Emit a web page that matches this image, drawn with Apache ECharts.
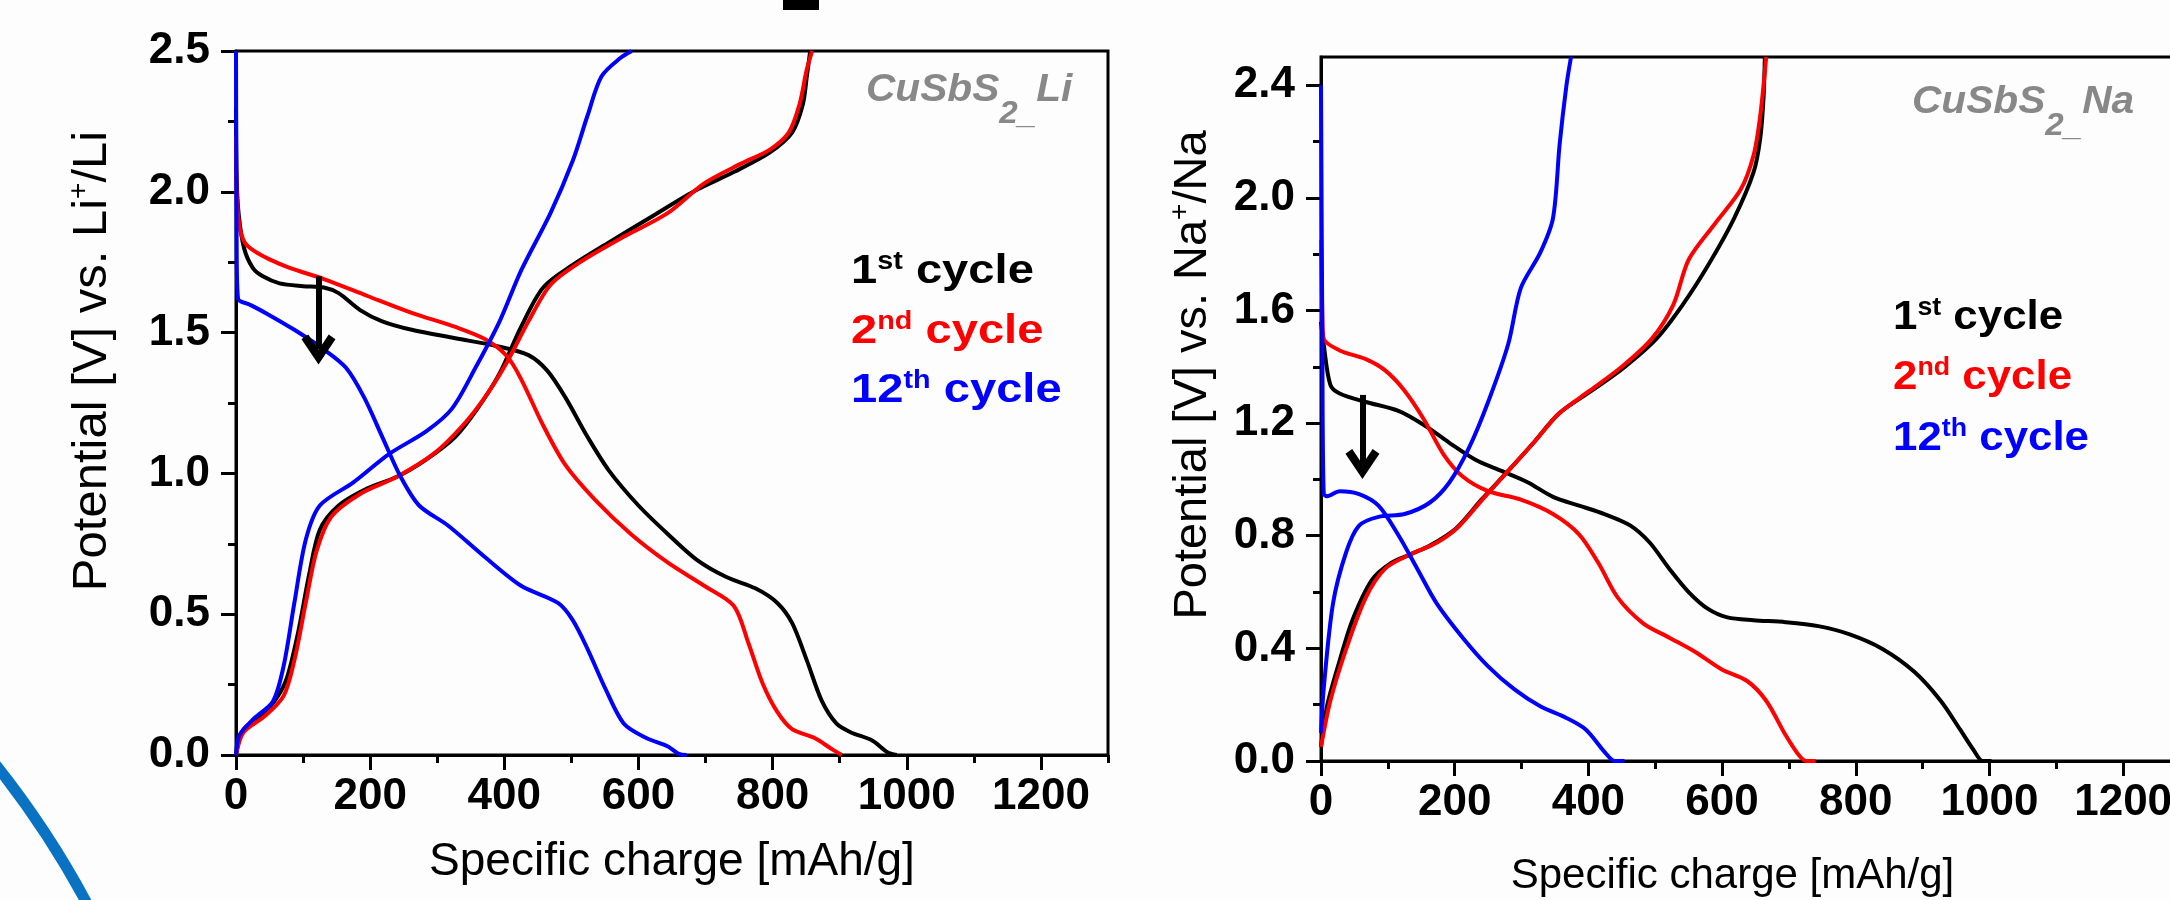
<!DOCTYPE html>
<html>
<head>
<meta charset="utf-8">
<script src="https://cdn.jsdelivr.net/npm/echarts@6/dist/echarts.min.js"></script>
<style>
html,body{margin:0;padding:0;background:#fdfdfd;}
#chart{width:2170px;height:900px;}
</style>
</head>
<body>
<div id="chart"></div>
<script>
// ---------- tick values ----------
const xTicks = [0, 200, 400, 600, 800, 1000, 1200];
const xMinorTicks = [100, 300, 500, 700, 900, 1100, 1300];
const liYTicks = [0, 0.5, 1.0, 1.5, 2.0, 2.5];
const liYMinorTicks = [0.25, 0.75, 1.25, 1.75, 2.25];
const naYTicks = [0, 0.4, 0.8, 1.2, 1.6, 2.0, 2.4];
const naYMinorTicks = [0.2, 0.6, 1.0, 1.4, 1.8, 2.2];

// ---------- CuSbS2 vs Li : [specific charge mAh/g, potential V] ----------
const liCycle1Discharge = [[0,2.3],[1,2.05],[4,1.92],[12,1.80],[25,1.73],[40,1.70],[65,1.675],[100,1.665],[131,1.66],[153,1.64],[185,1.58],[218,1.54],[262,1.51],[327,1.48],[393,1.45],[436,1.42],[464,1.365],[491,1.27],[524,1.13],[556,1.01],[600,0.886],[644,0.784],[687,0.693],[731,0.632],[775,0.591],[807,0.54],[829,0.469],[851,0.336],[873,0.194],[895,0.112],[916,0.081],[949,0.051],[971,0.01],[985,0]];
const liCycle1Charge = [[0,0],[11,0.09],[38,0.14],[60,0.20],[76,0.275],[93,0.44],[109,0.64],[125,0.80],[153,0.886],[196,0.947],[240,0.988],[284,1.05],[327,1.13],[360,1.23],[393,1.355],[425,1.52],[458,1.66],[502,1.74],[556,1.82],[622,1.915],[687,2.007],[742,2.07],[796,2.14],[829,2.21],[845,2.31],[851,2.41],[856,2.5]];
const liCycle2Discharge = [[0,2.2],[1,2.0],[5,1.88],[13,1.82],[27,1.79],[50,1.76],[80,1.73],[131,1.69],[196,1.63],[262,1.57],[327,1.52],[371,1.477],[404,1.416],[425,1.335],[458,1.17],[491,1.03],[535,0.907],[589,0.784],[644,0.683],[698,0.601],[742,0.53],[764,0.397],[785,0.255],[807,0.153],[829,0.092],[862,0.061],[889,0.02],[903,0]];
const liCycle2Charge = [[0,0],[11,0.08],[44,0.14],[71,0.21],[87,0.336],[104,0.54],[120,0.723],[142,0.846],[185,0.927],[240,0.988],[295,1.07],[338,1.17],[371,1.27],[404,1.395],[436,1.54],[469,1.67],[513,1.75],[578,1.84],[644,1.925],[698,2.03],[753,2.10],[796,2.15],[824,2.21],[840,2.31],[851,2.435],[859,2.5]];
const liCycle12Discharge = [[0,2.5],[1,1.8],[3,1.62],[20,1.60],[44,1.57],[87,1.51],[131,1.44],[164,1.375],[191,1.27],[218,1.13],[245,0.99],[273,0.886],[316,0.815],[371,0.703],[425,0.601],[480,0.54],[502,0.479],[524,0.377],[551,0.234],[578,0.112],[611,0.061],[644,0.03],[660,0.004],[672,0]];
const liCycle12Charge = [[0,0],[5,0.07],[27,0.13],[55,0.19],[71,0.316],[87,0.54],[104,0.764],[125,0.886],[175,0.968],[229,1.07],[284,1.15],[322,1.23],[357,1.375],[393,1.54],[425,1.72],[469,1.925],[502,2.11],[524,2.27],[545,2.41],[573,2.475],[590,2.5]];

// ---------- CuSbS2 vs Na ----------
const naCycle1Discharge = [[0,1.56],[4,1.48],[14,1.336],[28,1.305],[67,1.275],[115,1.244],[154,1.193],[192,1.13],[231,1.07],[270,1.03],[309,0.99],[347,0.938],[386,0.907],[424,0.877],[463,0.836],[492,0.775],[521,0.683],[550,0.60],[579,0.54],[608,0.51],[647,0.50],[695,0.493],[744,0.479],[792,0.449],[840,0.398],[888,0.316],[927,0.214],[956,0.112],[976,0.04],[990,0],[1003,0]];
const naCycle1Charge = [[0,0.05],[9,0.194],[28,0.357],[47,0.50],[76,0.642],[105,0.703],[134,0.734],[163,0.765],[202,0.826],[240,0.928],[280,1.03],[318,1.13],[356,1.234],[405,1.315],[453,1.397],[502,1.50],[541,1.62],[580,1.764],[618,1.927],[647,2.09],[657,2.21],[662,2.355],[664,2.5]];
const naCycle2Discharge = [[0,1.85],[2,1.58],[4,1.50],[28,1.458],[67,1.427],[96,1.387],[125,1.315],[154,1.213],[183,1.09],[212,1.01],[250,0.958],[299,0.928],[347,0.877],[386,0.805],[415,0.703],[444,0.58],[482,0.489],[521,0.438],[560,0.387],[599,0.326],[637,0.285],[666,0.214],[695,0.092],[715,0.02],[726,0],[740,0]];
const naCycle2Charge = [[0,0.05],[14,0.214],[38,0.40],[67,0.58],[96,0.683],[134,0.734],[173,0.775],[205,0.83],[242,0.93],[280,1.03],[318,1.13],[356,1.234],[402,1.315],[450,1.40],[495,1.50],[527,1.62],[550,1.78],[589,1.907],[628,2.03],[647,2.15],[657,2.29],[666,2.5]];
const naCycle12Discharge = [[0,2.4],[2,1.5],[4,0.95],[9,0.94],[28,0.958],[57,0.948],[86,0.907],[115,0.805],[144,0.683],[173,0.56],[212,0.438],[250,0.336],[289,0.255],[328,0.194],[367,0.153],[396,0.112],[425,0.03],[439,0],[454,0]];
const naCycle12Charge = [[0,0.1],[4,0.255],[18,0.56],[38,0.744],[57,0.836],[86,0.867],[125,0.877],[163,0.918],[192,0.989],[221,1.11],[250,1.275],[280,1.48],[299,1.68],[328,1.805],[347,1.927],[357,2.19],[367,2.396],[374,2.5]];

// ---------- arrows (x, start V, end V) ----------
const liArrow = [123, 1.70, 1.44];
const naArrow = [62, 1.30, 1.055];

const FONT = 'Liberation Sans';
const colors = { c1: '#000000', c2: '#ff0000', c12: '#0000ff' };

function majorX(grid, gap, nameSize, namePad) {
  return {
    gridIndex: grid, type: 'value', min: 0, max: 1300, position: 'bottom', offset: 0,
    axisLine: { show: true, onZero: false, lineStyle: { color: '#000', width: 3 } },
    axisTick: { show: true, customValues: xTicks, length: 15, lineStyle: { color: '#000', width: 3 } },
    axisLabel: { show: true, customValues: xTicks, margin: 20, color: '#000', fontSize: 44, fontWeight: 'bold', fontFamily: FONT,
      formatter: v => String(Math.round(v)) },
    splitLine: { show: false },
    name: 'Specific charge [mAh/g]', nameLocation: 'middle', nameGap: gap,
    nameMoveOverlap: false,
    nameTextStyle: { fontSize: nameSize, fontFamily: FONT, color: '#000', padding: namePad }
  };
}
function minorX(grid) {
  return {
    gridIndex: grid, type: 'value', min: 0, max: 1300, position: 'bottom', offset: 0,
    axisLine: { show: false, onZero: false },
    axisTick: { show: true, customValues: xMinorTicks, length: 8, lineStyle: { color: '#000', width: 3 } },
    axisLabel: { show: false }, splitLine: { show: false }
  };
}
function majorY(grid, ticks, nameRich, gap, nameSize, shiftUp) {
  return {
    gridIndex: grid, type: 'value', min: 0, max: 2.5, position: 'left', offset: 0,
    axisLine: { show: true, onZero: false, lineStyle: { color: '#000', width: 3 } },
    axisTick: { show: true, customValues: ticks, length: 15, lineStyle: { color: '#000', width: 3 } },
    axisLabel: { show: true, customValues: ticks, margin: 26, color: '#000', fontSize: 44, fontWeight: 'bold', fontFamily: FONT,
      formatter: v => Number(v).toFixed(1) },
    splitLine: { show: false },
    name: nameRich, nameLocation: 'middle', nameGap: gap, nameMoveOverlap: false,
    nameTextStyle: {
      fontFamily: FONT, color: '#000', padding: [0, 0, 0, shiftUp * 2],
      rich: {
        n: { fontSize: nameSize, fontFamily: FONT, color: '#000', lineHeight: 54 },
        s: { fontSize: 28, fontFamily: FONT, color: '#000', lineHeight: 10, verticalAlign: 'top' }
      }
    }
  };
}
function minorY(grid, ticks) {
  return {
    gridIndex: grid, type: 'value', min: 0, max: 2.5, position: 'left', offset: 0,
    axisLine: { show: false, onZero: false },
    axisTick: { show: true, customValues: ticks, length: 8, lineStyle: { color: '#000', width: 3 } },
    axisLabel: { show: false }, splitLine: { show: false }
  };
}

function curve(data, color, xi, yi, z) {
  return {
    type: 'line', xAxisIndex: xi, yAxisIndex: yi, data: data,
    symbol: 'none', showSymbol: false, smooth: 0.3, z: z,
    lineStyle: { color: color, width: 4 }, silent: true
  };
}
const chevron = 'path://M50,0 L100,62 L80,74 L50,36 L20,74 L0,62 Z';
function arrow(a) {
  return {
    silent: true, animation: false,
    symbol: ['none', chevron], symbolSize: [34, 30],
    label: { show: false },
    lineStyle: { color: '#000', width: 6, type: 'solid' },
    itemStyle: { color: '#000' },
    data: [[{ coord: [a[0], a[1]] }, { coord: [a[0], a[2]] }]]
  };
}

const s1 = curve(liCycle1Discharge, colors.c1, 0, 0, 2);
s1.markLine = arrow(liArrow);
const s2 = curve(naCycle1Discharge, colors.c1, 2, 2, 2);
s2.markLine = arrow(naArrow);

function legendLine(x, y, num, sup, color, sx) {
  return {
    type: 'text', x: x, y: y, z: 10, scaleX: sx, scaleY: 1,
    style: {
      text: '{n|' + num + '}{s|' + sup + '}{n| cycle}',
      align: 'left', verticalAlign: 'top', fill: color,
      rich: {
        n: { fontSize: 41, fontWeight: 'bold', fontFamily: FONT, fill: color, lineHeight: 44 },
        s: { fontSize: 25, fontWeight: 'bold', fontFamily: FONT, fill: color, lineHeight: 8, verticalAlign: 'top' }
      }
    }
  };
}
function tag(x, y, suffix) {
  return {
    type: 'text', x: x, y: y, z: 10, scaleX: 1.07, scaleY: 1,
    style: {
      text: '{a|CuSbS}{b|2_}{a|' + suffix + '}',
      align: 'left', verticalAlign: 'top', fill: '#888888',
      rich: {
        a: { fontSize: 38, fontWeight: 'bold', fontStyle: 'italic', fontFamily: FONT, fill: '#888888', lineHeight: 30, verticalAlign: 'top' },
        b: { fontSize: 31, fontWeight: 'bold', fontStyle: 'italic', fontFamily: FONT, fill: '#888888', lineHeight: 58, verticalAlign: 'bottom' }
      }
    }
  };
}

const option = {
  backgroundColor: '#fdfdfd',
  animation: false,
  textStyle: { fontFamily: FONT },
  grid: [
    { left: 236, top: 51, width: 872, height: 704, show: true, borderColor: '#000', borderWidth: 3, containLabel: false, outerBoundsMode: 'none' },
    { left: 1321, top: 57, width: 869, height: 704, show: true, borderColor: '#000', borderWidth: 3, containLabel: false, outerBoundsMode: 'none' }
  ],
  xAxis: [majorX(0, 84, 46, 0), minorX(0), majorX(1, 94, 42, [0, 46, 0, 0]), minorX(1)],
  yAxis: [
    majorY(0, liYTicks, '{n|Potential [V] vs. Li}{s|+}{n|/Li}', 117, 49, 42),
    minorY(0, liYMinorTicks),
    majorY(1, naYTicks, '{n|Potential [V] vs. Na}{s|+}{n|/Na}', 101, 47, 34),
    minorY(1, naYMinorTicks)
  ],
  series: [
    s1,
    curve(liCycle1Charge, colors.c1, 0, 0, 2),
    curve(liCycle2Discharge, colors.c2, 0, 0, 3),
    curve(liCycle2Charge, colors.c2, 0, 0, 3),
    curve(liCycle12Discharge, colors.c12, 0, 0, 4),
    curve(liCycle12Charge, colors.c12, 0, 0, 4),
    s2,
    curve(naCycle1Charge, colors.c1, 2, 2, 2),
    curve(naCycle2Discharge, colors.c2, 2, 2, 3),
    curve(naCycle2Charge, colors.c2, 2, 2, 3),
    curve(naCycle12Discharge, colors.c12, 2, 2, 4),
    curve(naCycle12Charge, colors.c12, 2, 2, 4)
  ],
  graphic: [
    tag(866, 72, 'Li'),
    tag(1912, 84, 'Na'),
    legendLine(851, 250, '1', 'st', colors.c1, 1.15),
    legendLine(851, 310, '2', 'nd', colors.c2, 1.15),
    legendLine(851, 369, '12', 'th', colors.c12, 1.15),
    legendLine(1893, 296, '1', 'st', colors.c1, 1.07),
    legendLine(1893, 356, '2', 'nd', colors.c2, 1.07),
    legendLine(1893, 417, '12', 'th', colors.c12, 1.07),
    { type: 'rect', z: 10, shape: { x: 783, y: 0, width: 36, height: 10 }, style: { fill: '#000' } },
    { type: 'arc', z: 10, shape: { cx: -731, cy: 1342, r: 928, startAngle: -0.74, endAngle: -0.36, clockwise: true },
      style: { stroke: '#0a72c2', lineWidth: 11, fill: null } }
  ]
};

const chart = echarts.init(document.getElementById('chart'), null, { renderer: 'canvas' });
chart.setOption(option);
</script>
</body>
</html>
